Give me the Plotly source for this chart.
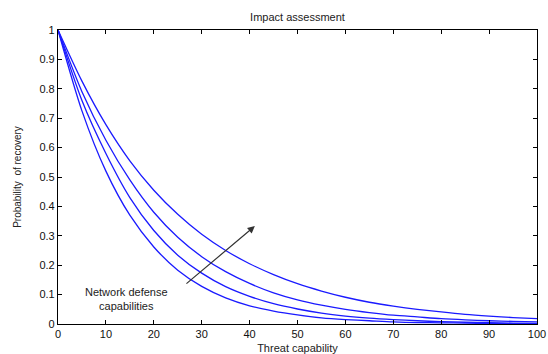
import plotly.graph_objects as go

threat = [0, 5, 10, 15, 20, 25, 30, 35, 40, 45, 50, 55, 60, 65, 70, 75, 80, 85, 90, 95, 100]
defense_1 = [1.0, 0.725, 0.520, 0.370, 0.262, 0.183, 0.128, 0.089, 0.062, 0.044, 0.031,
             0.021, 0.015, 0.011, 0.007, 0.005, 0.004, 0.003, 0.002, 0.001, 0.001]
defense_2 = [1.0, 0.760, 0.580, 0.430, 0.318, 0.234, 0.173, 0.127, 0.094, 0.069, 0.051,
             0.037, 0.027, 0.020, 0.015, 0.011, 0.008, 0.006, 0.005, 0.003, 0.002]
defense_3 = [1.0, 0.790, 0.625, 0.490, 0.380, 0.295, 0.229, 0.178, 0.138, 0.106, 0.082,
             0.064, 0.050, 0.039, 0.030, 0.024, 0.018, 0.014, 0.011, 0.009, 0.007]
defense_4 = [1.0, 0.826, 0.678, 0.555, 0.455, 0.373, 0.305, 0.250, 0.205, 0.168, 0.137,
             0.112, 0.091, 0.074, 0.061, 0.050, 0.041, 0.033, 0.027, 0.022, 0.018]

x_ticks = [0, 10, 20, 30, 40, 50, 60, 70, 80, 90, 100]
y_ticks = [0, 0.1, 0.2, 0.3, 0.4, 0.5, 0.6, 0.7, 0.8, 0.9, 1]
y_tick_text = ["0", "0.1", "0.2", "0.3", "0.4", "0.5", "0.6", "0.7", "0.8", "0.9", "1"]

fig = go.Figure()
for ys in [defense_1, defense_2, defense_3, defense_4]:
    fig.add_trace(go.Scatter(x=threat, y=ys, mode="lines",
                             line=dict(color="#1a1aff", width=1.3, shape="spline", smoothing=0.8),
                             showlegend=False, hoverinfo="skip"))

font = "Liberation Sans, Arial, sans-serif"
axis_common = dict(showline=True, linecolor="black", linewidth=1.2, mirror="ticks",
                   ticks="inside", ticklen=4, tickcolor="black", showgrid=False, zeroline=False,
                   automargin=False,
                   tickfont=dict(family=font, size=11, color="#111"))

fig.update_layout(
    width=548, height=354,
    margin=dict(l=58, r=11, t=30, b=30),
    paper_bgcolor="white", plot_bgcolor="white",
    title=dict(text="Impact assessment", x=(58 + 537) / 2 / 548, xanchor="center",
               y=1 - 17 / 354, yanchor="middle", font=dict(family=font, size=11, color="#222")),
    xaxis=dict(range=[0, 100], tickvals=x_ticks, **axis_common,
               title=dict(text="Threat capability", font=dict(family=font, size=11, color="#222"))),
    yaxis=dict(range=[0, 1], tickvals=y_ticks, ticktext=y_tick_text, **axis_common,
               title=dict(text="Probability  of recovery", font=dict(family=font, size=10, color="#222"))),
)

fig.add_annotation(x=41.1, y=0.333, ax=26.5, ay=0.133, xref="x", yref="y", axref="x", ayref="y",
                   text="", showarrow=True, arrowhead=2, arrowsize=1.2, arrowwidth=1.2, arrowcolor="#333")
fig.add_annotation(x=14.3, y=0.086, xref="x", yref="y", text="Network defense<br>capabilities",
                   showarrow=False, font=dict(family=font, size=11, color="#222"), align="center")

fig.write_html("out.html", config={"displayModeBar": False},
               post_script="document.body.style.margin='0';document.body.style.overflow='hidden';")
